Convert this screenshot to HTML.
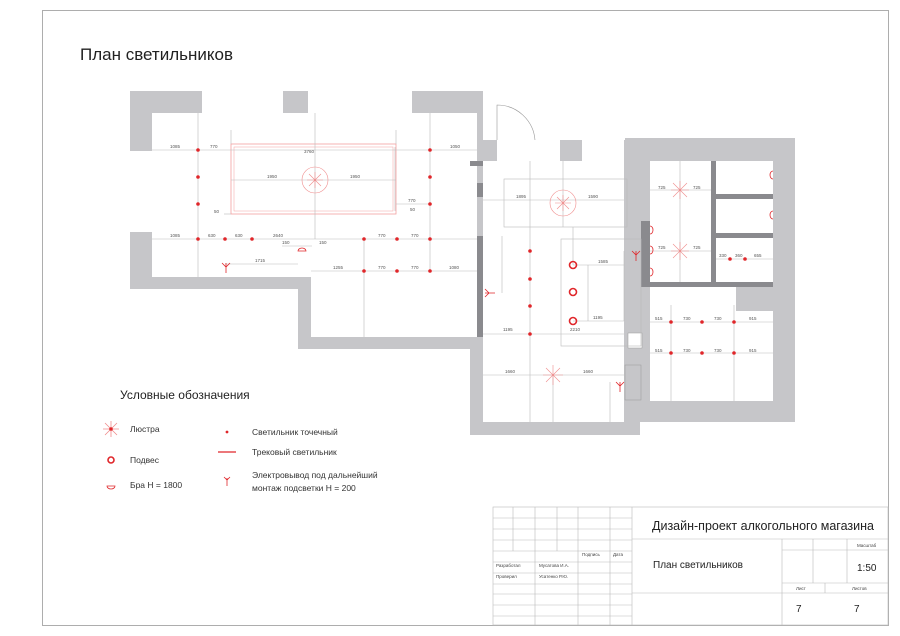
<!DOCTYPE html>
<html><head><meta charset="utf-8"><style>
html,body{margin:0;padding:0;background:#fff}
svg{display:block;font-family:"Liberation Sans","DejaVu Sans",sans-serif}
.d{stroke:#bbb;stroke-width:0.6;fill:none}
.t{font-size:4.5px;fill:#555}
.r{fill:#e0262a}
</style></head><body>
<svg width="900" height="636" viewBox="0 0 900 636" xmlns="http://www.w3.org/2000/svg">
<rect x="42.5" y="10.5" width="846" height="615" fill="none" stroke="#999" stroke-width="0.8"/>
<text x="80" y="60" font-size="17" fill="#222">План светильников</text>

<!-- walls -->
<g fill="#c6c6c9">
<rect x="130" y="91" width="353" height="198"/>
<rect x="298" y="277" width="185" height="72"/>
<rect x="470" y="140" width="170" height="295"/>
<rect x="625" y="138" width="170" height="284"/>
</g>
<g fill="#fff">
<rect x="152" y="113" width="325" height="164"/>
<rect x="311" y="277" width="166" height="60"/>
<rect x="202" y="91" width="81" height="22"/>
<rect x="308" y="91" width="104" height="22"/>
<rect x="130" y="151" width="22" height="81"/>
<rect x="483" y="161" width="141" height="261"/>
<rect x="497" y="140" width="63" height="21"/>
<rect x="582" y="140" width="42" height="21"/>
<rect x="650" y="161" width="61" height="121"/>
<rect x="716" y="161" width="57" height="33"/>
<rect x="716" y="199" width="57" height="34"/>
<rect x="716" y="238" width="57" height="44"/>
<rect x="650" y="287" width="123" height="114"/>
<rect x="628" y="333" width="14" height="15" stroke="#999" stroke-width="0.5"/>
</g>
<rect x="736" y="287" width="37" height="24" fill="#c6c6c9"/>
<rect x="625" y="365" width="16" height="35" fill="none" stroke="#999" stroke-width="0.5"/>
<g fill="#8a8a8e">
<rect x="477" y="183" width="6" height="14"/><rect x="477" y="236" width="6" height="101"/>
<rect x="641" y="221" width="9" height="66"/><rect x="650" y="282" width="123" height="5"/>
<rect x="711" y="194" width="62" height="5"/><rect x="711" y="233" width="62" height="5"/>
<rect x="711" y="161" width="5" height="126"/><rect x="470" y="161" width="13" height="5"/>
</g>
<!-- door -->
<path d="M497 140 L497 105 A38 38 0 0 1 535 140" fill="none" stroke="#999" stroke-width="0.6"/>

<!-- ceiling rectangles -->
<rect x="231" y="144" width="165" height="70" fill="none" stroke="#f3a0a0" stroke-width="0.8"/>
<rect x="234" y="147" width="159" height="64" fill="none" stroke="#f3a0a0" stroke-width="0.5"/>
<rect x="504" y="179" width="123" height="48" class="d"/>
<rect x="561" y="239" width="80" height="107" class="d"/>

<!-- dimension lines room1 -->
<g class="d">
<line x1="152" y1="150" x2="477" y2="150"/><line x1="152" y1="239" x2="477" y2="239"/>
<line x1="311" y1="271" x2="477" y2="271"/><line x1="198" y1="113" x2="198" y2="277"/>
<line x1="430" y1="113" x2="430" y2="271"/><line x1="315" y1="113" x2="315" y2="239"/>
<line x1="364" y1="239" x2="364" y2="337"/><line x1="231" y1="180" x2="396" y2="180"/>
<line x1="224" y1="214" x2="231" y2="214"/><line x1="396" y1="204" x2="430" y2="204"/>
<line x1="225" y1="264" x2="298" y2="264"/><line x1="282" y1="246" x2="312" y2="246"/>
<line x1="231" y1="130" x2="231" y2="144"/><line x1="396" y1="130" x2="396" y2="144"/>
<line x1="395" y1="147" x2="395" y2="211"/>
<!-- central -->
<line x1="483" y1="200" x2="624" y2="200"/><line x1="530" y1="161" x2="530" y2="422"/>
<line x1="563" y1="161" x2="563" y2="227"/><line x1="573" y1="227" x2="573" y2="265"/>
<line x1="573" y1="265" x2="624" y2="265"/><line x1="573" y1="321" x2="624" y2="321"/>
<line x1="588" y1="265" x2="588" y2="321"/><line x1="624" y1="251" x2="624" y2="321"/>
<line x1="483" y1="334" x2="624" y2="334"/><line x1="483" y1="375" x2="624" y2="375"/>
<line x1="553" y1="375" x2="553" y2="422"/><line x1="610" y1="382" x2="610" y2="422"/>
<line x1="502" y1="236" x2="502" y2="293"/>
<!-- right -->
<line x1="650" y1="190" x2="711" y2="190"/><line x1="650" y1="251" x2="711" y2="251"/>
<line x1="680" y1="161" x2="680" y2="282"/><line x1="716" y1="259" x2="773" y2="259"/>
<line x1="650" y1="322" x2="773" y2="322"/><line x1="650" y1="353" x2="773" y2="353"/>
<line x1="671" y1="305" x2="671" y2="401"/><line x1="734" y1="305" x2="734" y2="401"/>
</g>
<g class="t">
<text x="170" y="148">1085</text><text x="210" y="148">770</text><text x="450" y="148">1050</text>
<text x="170" y="237">1085</text><text x="208" y="237">630</text><text x="235" y="237">630</text>
<text x="273" y="237">2640</text><text x="378" y="237">770</text><text x="411" y="237">770</text>
<text x="333" y="269">1255</text><text x="378" y="269">770</text><text x="411" y="269">770</text><text x="449" y="269">1080</text>
<text x="304" y="153">3760</text><text x="267" y="178">1950</text><text x="350" y="178">1950</text>
<text x="255" y="262">1715</text><text x="282" y="244">150</text><text x="319" y="244">150</text>
<text x="214" y="213">50</text><text x="410" y="211">50</text><text x="408" y="202">770</text>
<text x="516" y="198">1895</text><text x="588" y="198">1590</text><text x="598" y="263">1585</text>
<text x="593" y="319">1195</text><text x="570" y="331">2210</text><text x="503" y="331">1195</text>
<text x="505" y="373">1660</text><text x="583" y="373">1660</text>
<text x="658" y="189">725</text><text x="693" y="189">725</text><text x="658" y="249">725</text><text x="693" y="249">725</text>
<text x="719" y="257">330</text><text x="735" y="257">360</text><text x="754" y="257">655</text>
<text x="655" y="320">515</text><text x="683" y="320">730</text><text x="714" y="320">730</text><text x="749" y="320">915</text>
<text x="655" y="352">515</text><text x="683" y="352">730</text><text x="714" y="352">730</text><text x="749" y="352">915</text>
</g>
<!-- chandeliers -->
<g stroke="#f08c8c" stroke-width="0.6" fill="none">
<circle cx="315" cy="180" r="13"/><circle cx="563" cy="203" r="13"/>
<path d="M307 180h16M315 172v16M309 174l12 12M321 174l-12 12"/>
<path d="M555 203h16M563 195v16M557 197l12 12M569 197l-12 12"/>
<path d="M671 190h18M680 181v18M673 183l14 14M687 183l-14 14"/>
<path d="M671 251h18M680 242v18M673 244l14 14M687 244l-14 14"/>
<path d="M543 375h20M553 365v20M546 368l14 14M560 368l-14 14"/>
</g>
<!-- spots -->
<g class="r">
<circle cx="198" cy="150" r="1.8"/><circle cx="198" cy="177" r="1.8"/><circle cx="198" cy="204" r="1.8"/>
<circle cx="198" cy="239" r="1.8"/><circle cx="225" cy="239" r="1.8"/><circle cx="252" cy="239" r="1.8"/>
<circle cx="430" cy="150" r="1.8"/><circle cx="430" cy="177" r="1.8"/><circle cx="430" cy="204" r="1.8"/>
<circle cx="430" cy="239" r="1.8"/><circle cx="397" cy="239" r="1.8"/><circle cx="364" cy="239" r="1.8"/>
<circle cx="364" cy="271" r="1.8"/><circle cx="397" cy="271" r="1.8"/><circle cx="430" cy="271" r="1.8"/>
<circle cx="530" cy="251" r="1.8"/><circle cx="530" cy="279" r="1.8"/><circle cx="530" cy="306" r="1.8"/><circle cx="530" cy="334" r="1.8"/>
<circle cx="671" cy="322" r="1.8"/><circle cx="702" cy="322" r="1.8"/><circle cx="734" cy="322" r="1.8"/>
<circle cx="671" cy="353" r="1.8"/><circle cx="702" cy="353" r="1.8"/><circle cx="734" cy="353" r="1.8"/>
<circle cx="730" cy="259" r="1.8"/><circle cx="745" cy="259" r="1.8"/>
</g>
<g stroke="#e0262a" stroke-width="1.6" fill="none">
<circle cx="573" cy="265" r="3.5"/><circle cx="573" cy="292" r="3.5"/><circle cx="573" cy="321" r="3.5"/>
</g>
<g stroke="#e0262a" stroke-width="0.8" fill="none">
<path d="M226 263v10M222 263l4 4 4-4"/><path d="M485 293h10M485 289l4 4-4 4"/>
<path d="M636 251v10M632 251l4 4 4-4"/><path d="M620 382v10M616 382l4 4 4-4"/>
<path d="M298 251a4 3 0 0 1 8 0z"/>
<path d="M773 171a3 4 0 0 0 0 8"/><path d="M773 211a3 4 0 0 0 0 8"/>
<path d="M650 226a3 4 0 0 1 0 8"/><path d="M650 246a3 4 0 0 1 0 8"/><path d="M650 268a3 4 0 0 1 0 8"/>
</g>

<!-- legend -->
<text x="120" y="399" font-size="12" fill="#222">Условные обозначения</text>
<g stroke="#f08c8c" stroke-width="0.8"><path d="M103 429h16M111 421v16M105 423l12 12M117 423l-12 12"/></g>
<circle cx="111" cy="429" r="1.8" class="r"/>
<circle cx="111" cy="460" r="3" fill="none" stroke="#e0262a" stroke-width="1.6"/>
<path d="M107 486h8a4 3 0 0 1 -8 0z" fill="none" stroke="#e0262a" stroke-width="0.8"/>
<circle cx="227" cy="432" r="1.4" class="r"/>
<line x1="218" y1="452" x2="236" y2="452" stroke="#e0262a" stroke-width="1.2"/>
<path d="M227 478v8M224 477l3 3 3-3" stroke="#e0262a" stroke-width="0.8" fill="none"/>
<g font-size="8.5" fill="#333">
<text x="130" y="432">Люстра</text><text x="130" y="463">Подвес</text><text x="130" y="488">Бра Н = 1800</text>
<text x="252" y="435">Светильник точечный</text><text x="252" y="455">Трековый светильник</text>
<text x="252" y="478">Электровывод  под дальнейший</text><text x="252" y="491">монтаж подсветки Н = 200</text>
</g>

<!-- title block -->
<g stroke="#bbb" stroke-width="0.6" fill="none">
<rect x="493" y="507" width="395" height="118"/>
<line x1="632" y1="507" x2="632" y2="625"/>
<line x1="632" y1="539" x2="888" y2="539"/><line x1="632" y1="593" x2="888" y2="593"/>
<line x1="782" y1="539" x2="782" y2="625"/><line x1="782" y1="550" x2="888" y2="550"/>
<line x1="782" y1="583" x2="888" y2="583"/><line x1="813" y1="539" x2="813" y2="583"/>
<line x1="847" y1="539" x2="847" y2="583"/><line x1="825" y1="583" x2="825" y2="593"/>
<line x1="493" y1="518" x2="632" y2="518"/><line x1="493" y1="529" x2="632" y2="529"/>
<line x1="493" y1="540" x2="632" y2="540"/><line x1="493" y1="551" x2="632" y2="551"/>
<line x1="493" y1="562" x2="632" y2="562"/><line x1="493" y1="573" x2="632" y2="573"/>
<line x1="493" y1="584" x2="632" y2="584"/><line x1="493" y1="594" x2="632" y2="594"/>
<line x1="493" y1="605" x2="632" y2="605"/><line x1="493" y1="616" x2="632" y2="616"/>
<line x1="513" y1="507" x2="513" y2="551"/><line x1="535" y1="507" x2="535" y2="625"/>
<line x1="557" y1="507" x2="557" y2="551"/><line x1="578" y1="507" x2="578" y2="625"/>
<line x1="610" y1="507" x2="610" y2="625"/>
</g>
<text x="652" y="530" font-size="12.5" fill="#222">Дизайн-проект алкогольного магазина</text>
<text x="653" y="568" font-size="10" fill="#222">План светильников</text>
<g font-size="4.5" fill="#444">
<text x="582" y="556">Подпись</text><text x="613" y="556">Дата</text>
<text x="496" y="567">Разработал</text><text x="539" y="567">Мусатова И.А.</text>
<text x="496" y="578">Проверил</text><text x="539" y="578">Усатенко Р.Ю.</text>
<text x="857" y="547">Масштаб</text><text x="796" y="590">Лист</text><text x="852" y="590">Листов</text>
</g>
<text x="857" y="571" font-size="10" fill="#222">1:50</text>
<text x="796" y="612" font-size="10" fill="#222">7</text>
<text x="854" y="612" font-size="10" fill="#222">7</text>
</svg>
</body></html>
